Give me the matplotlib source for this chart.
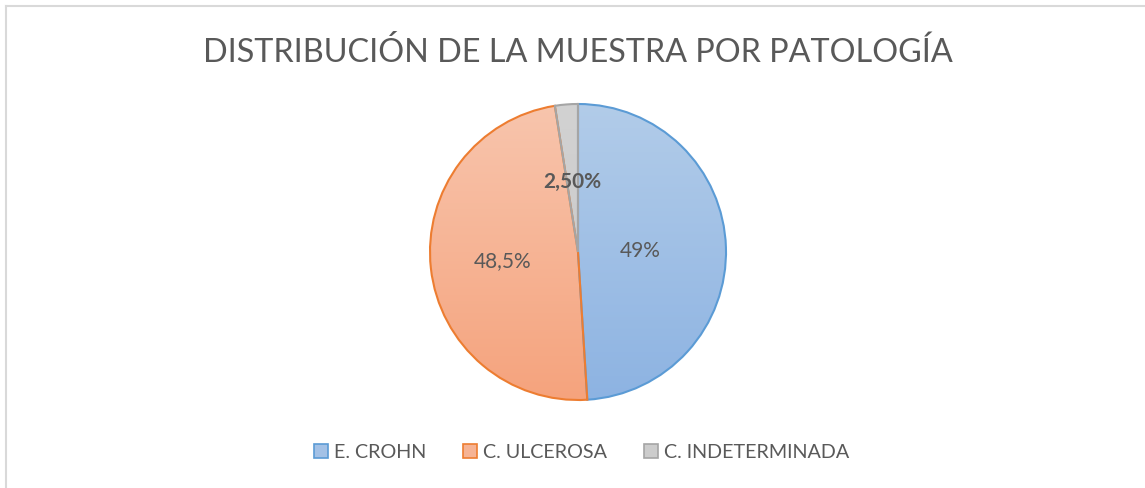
import numpy as np
import matplotlib
matplotlib.use("Agg")
import matplotlib.pyplot as plt
from matplotlib.patches import Patch
from matplotlib.lines import Line2D
from matplotlib.colors import LinearSegmentedColormap

# ---- data ----
categories = ["E. CROHN", "C. ULCEROSA", "C. INDETERMINADA"]
values = [49.0, 48.5, 2.5]
value_labels = ["49%", "48,5%", "2,50%"]
label_bold = [False, False, True]
title = "DISTRIBUCIÓN DE LA MUESTRA POR PATOLOGÍA"

# ---- styles ----
grad_top = ["#b2cce9", "#f8c5ad", "#d2d2d2"]
grad_bot = ["#8db3e2", "#f5a37d", "#c6c6c6"]
edge_cols = ["#5b9bd5", "#ed7d31", "#a5a5a5"]
label_dist = [0.42, 0.51, 0.48]
text_col = "#595959"

plt.rcParams['font.family'] = ['Lato', 'DejaVu Sans']

W, H = 1145, 489
fig = plt.figure(figsize=(W / 100, H / 100), dpi=100)

# chart border (light gray frame)
fig.add_artist(Line2D([5.5 / W, 5.5 / W], [0, 1 - 7 / H], transform=fig.transFigure,
                      color="#d9d9d9", lw=1.5))
fig.add_artist(Line2D([5.5 / W, 1], [1 - 7 / H, 1 - 7 / H], transform=fig.transFigure,
                      color="#d9d9d9", lw=1.5))

cx, cy, r = 578, 253, 148
ax = fig.add_axes([(cx - r) / W, (H - cy - r) / H, 2 * r / W, 2 * r / H])
wedges, _ = ax.pie(values, startangle=90, counterclock=False, radius=1,
                   wedgeprops=dict(linewidth=1.5))
ax.set_xlim(-1, 1)
ax.set_ylim(-1, 1)
ax.set_aspect('auto')
ax.axis('off')

grad = np.linspace(0, 1, 256).reshape(-1, 1)
for w, t, b, e in zip(wedges, grad_top, grad_bot, edge_cols):
    w.set_facecolor('none')
    w.set_edgecolor(e)
    w.set_zorder(3)
    cmap = LinearSegmentedColormap.from_list("g", [t, b])
    im = ax.imshow(grad, cmap=cmap, extent=[-1, 1, -1, 1], origin='upper',
                   aspect='auto', zorder=1)
    im.set_clip_path(w)

# value labels
total = sum(values)
start = 90.0
for v, lab, d, bold in zip(values, value_labels, label_dist, label_bold):
    span = 360.0 * v / total
    mid = np.deg2rad(start - span / 2)
    start -= span
    ax.text(d * np.cos(mid), d * np.sin(mid), lab, ha='center', va='center',
            fontsize=15, color=text_col, fontweight='bold' if bold else 'normal',
            zorder=5)

fig.text(cx / W, 1 - 53 / H, title, ha='center', va='center', fontsize=23.3,
         color=text_col)

handles = [Patch(facecolor=c, edgecolor=e, linewidth=1.2)
           for c, e in zip(["#a3c1e6", "#f6b394", "#cccccc"], edge_cols)]
fig.legend(handles, categories, loc='center', bbox_to_anchor=(581.5 / W, 1 - 453 / H),
           ncol=3, frameon=False, fontsize=14.2, labelcolor=text_col,
           handlelength=0.72, handleheight=0.72, handletextpad=0.3,
           columnspacing=1.85)

fig.savefig("out.png", dpi=100)
